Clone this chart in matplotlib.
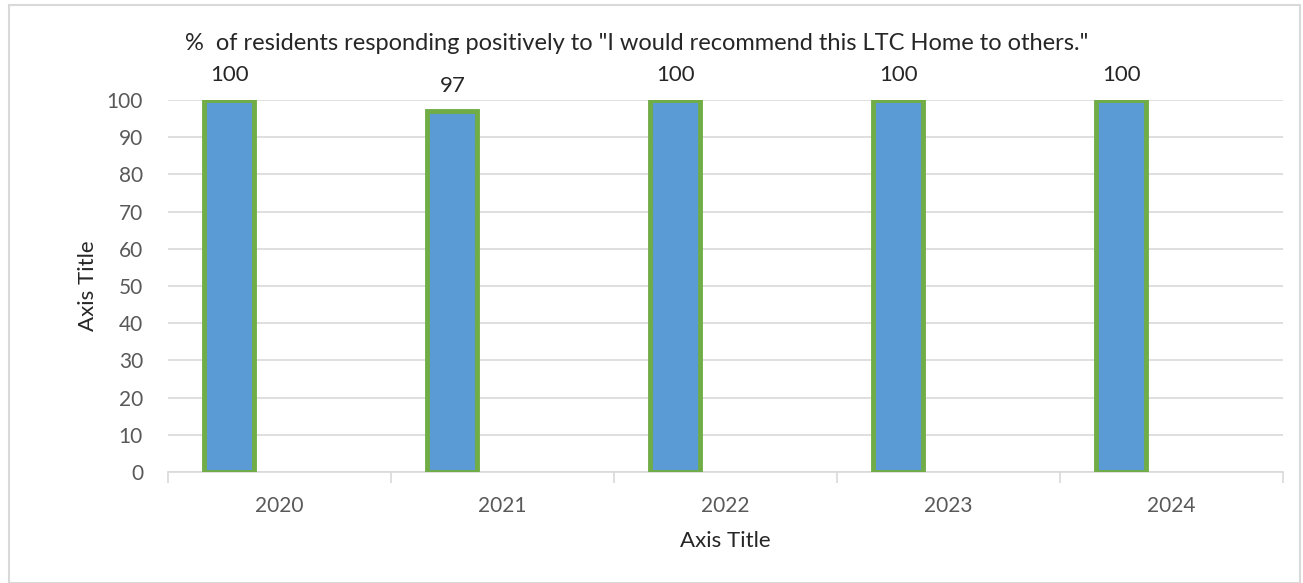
import matplotlib.pyplot as plt
import numpy as np
from matplotlib.patches import Rectangle

years = ["2020", "2021", "2022", "2023", "2024"]
values = [100, 97, 100, 100, 100]
title = '%  of residents responding positively to "I would recommend this LTC Home to others."'

plt.rcParams['font.family'] = ['Lato', 'DejaVu Sans']

fig = plt.figure(figsize=(13.03, 5.83), dpi=100)
ax = fig.add_axes([168 / 1303, 111 / 583, 1115 / 1303, 372 / 583])

x = np.arange(len(years))
bars = ax.bar(x - 0.225, values, width=0.225, color="#5B9BD5",
              edgecolor="#70AD47", linewidth=3.5, zorder=3)

for xi, v in zip(x, values):
    ax.annotate(str(v), (xi - 0.225, v), xytext=(0, 11), textcoords="offset points",
                ha="center", va="bottom", fontsize=16, color="#262626")

ax.set_xlim(-0.5, len(years) - 0.5)
ax.set_ylim(0, 100)
ax.set_yticks(range(0, 101, 10))
ax.set_xticks(x)
ax.set_xticklabels(years)
ax.set_xticks(np.arange(-0.5, len(years)), minor=True)
ax.tick_params(axis="x", which="major", length=0, pad=17, labelsize=15, colors="#595959")
ax.tick_params(axis="x", which="minor", length=8, width=1.2, color="#D9D9D9")
ax.tick_params(axis="y", length=0, pad=18, labelsize=15, colors="#595959")
ax.grid(axis="y", color="#D9D9D9", linewidth=1.2, zorder=0)
for s in ["top", "right", "left"]:
    ax.spines[s].set_visible(False)
ax.spines["bottom"].set_color("#D9D9D9")
ax.spines["bottom"].set_linewidth(1.2)

ax.set_xlabel("Axis Title", fontsize=16, color="#262626", labelpad=11)
ax.set_ylabel("Axis Title", fontsize=16, color="#262626", labelpad=6)

fig.text(637 / 1303, 1 - 44 / 583, title, ha="center", va="center",
         fontsize=17, color="#262626")

fig.patches.append(Rectangle((9 / 1303, 0), 1291 / 1303, 1 - 5 / 583,
                             transform=fig.transFigure, fill=False,
                             edgecolor="#D9D9D9", linewidth=1.5))

fig.savefig("out.png", dpi=100)
